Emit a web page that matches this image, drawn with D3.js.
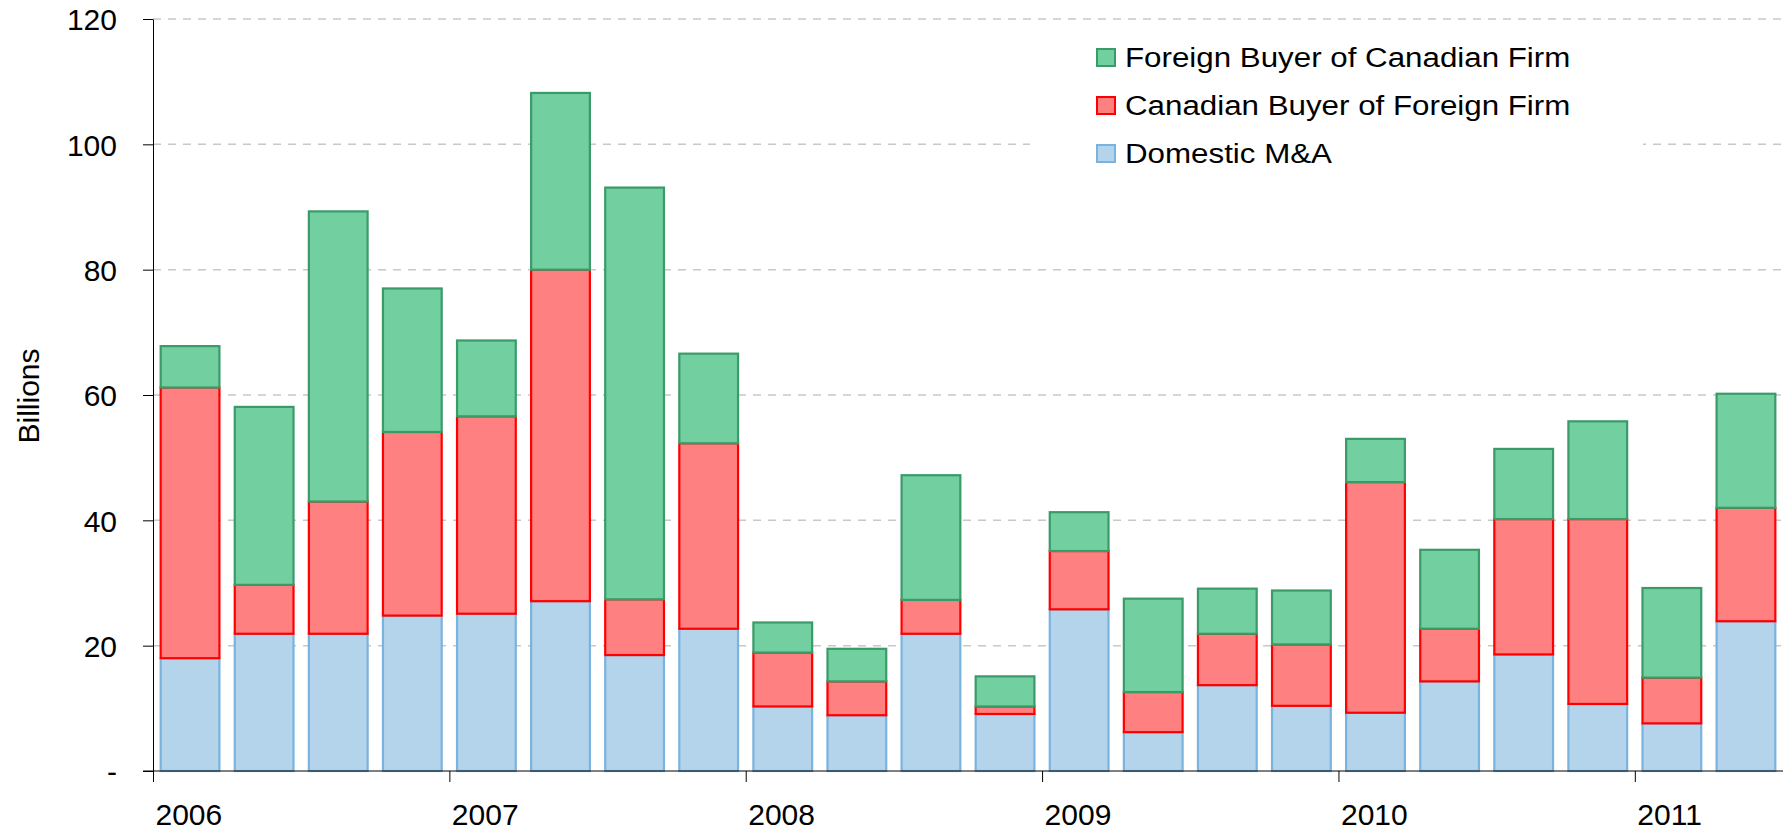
<!DOCTYPE html>
<html>
<head>
<meta charset="utf-8">
<script src="https://cdn.jsdelivr.net/npm/d3@7"></script>
<style>
  body { margin: 0; background: #fff; }
  text { font-family: "Liberation Sans", Arial, sans-serif; fill: #000; }
</style>
</head>
<body>
<div id="chart"></div>
<script>
// quarters 2006Q1 .. 2011Q2
const quarters = ["2006Q1","2006Q2","2006Q3","2006Q4","2007Q1","2007Q2","2007Q3","2007Q4",
    "2008Q1","2008Q2","2008Q3","2008Q4","2009Q1","2009Q2","2009Q3","2009Q4",
    "2010Q1","2010Q2","2010Q3","2010Q4","2011Q1","2011Q2"];

// billions
const domestic = [18.0, 21.9, 21.9, 24.8, 25.1, 27.1, 18.5, 22.7, 10.3, 8.9, 21.9, 9.1,
    25.8, 6.2, 13.7, 10.4, 9.3, 14.3, 18.6, 10.7, 7.6, 23.9];
const canadianBuyer = [43.2, 7.8, 21.1, 29.3, 31.5, 52.9, 8.9, 29.6, 8.6, 5.4, 5.4, 1.2,
    9.3, 6.4, 8.2, 9.8, 36.8, 8.4, 21.6, 29.5, 7.3, 18.1];
const foreignBuyer = [6.6, 28.4, 46.3, 22.9, 12.1, 28.2, 65.7, 14.3, 4.8, 5.2, 19.9, 4.8,
    6.2, 14.9, 7.2, 8.6, 6.9, 12.6, 11.2, 15.6, 14.3, 18.2];

const yTicks = [0, 20, 40, 60, 80, 100, 120];
const yearTicks = [0, 4, 8, 12, 16, 20];
const yearLabels = ["2006", "2007", "2008", "2009", "2010", "2011"];

const seriesNames = ["Foreign Buyer of Canadian Firm", "Canadian Buyer of Foreign Firm", "Domestic M&A"];
const fills = {"Domestic M&A": "#b3d4ea", "Canadian Buyer of Foreign Firm": "#ff8080", "Foreign Buyer of Canadian Firm": "#71cfa0"};
const strokes = {"Domestic M&A": "#7ab3de", "Canadian Buyer of Foreign Firm": "#ff0000", "Foreign Buyer of Canadian Firm": "#3a9b69"};

const W = 1789, H = 832;
const plotLeft = 153, plotRight = 1783, plotTop = 19, plotBottom = 771;

const svg = d3.select("#chart").append("svg").attr("width", W).attr("height", H);

const x = d3.scaleBand().domain(quarters).range([plotLeft, plotRight]).paddingInner(0.18).paddingOuter(0.09);
const xq = d3.scaleLinear().domain([0, quarters.length]).range([plotLeft, plotRight]);
const y = d3.scaleLinear().domain([0, 120]).range([plotBottom, plotTop]);

// grid
svg.append("g").selectAll("line").data(yTicks.filter(d => d > 0)).join("line")
    .attr("x1", plotLeft).attr("x2", plotRight)
    .attr("y1", d => y(d)).attr("y2", d => y(d))
    .attr("stroke", "#c8c8c8").attr("stroke-width", 1.5)
    .attr("stroke-dasharray", "8,7");

// stacked bars
const rows = quarters.map((q, i) => ({
    q: q,
    "Domestic M&A": domestic[i],
    "Canadian Buyer of Foreign Firm": canadianBuyer[i],
    "Foreign Buyer of Canadian Firm": foreignBuyer[i]
}));
const stack = d3.stack().keys(["Domestic M&A", "Canadian Buyer of Foreign Firm", "Foreign Buyer of Canadian Firm"]);
const layers = stack(rows);

svg.append("g").selectAll("g").data(layers).join("g")
    .attr("fill", d => fills[d.key])
    .attr("stroke", d => strokes[d.key])
    .attr("stroke-width", 2.2)
    .selectAll("rect").data(d => d).join("rect")
    .attr("x", d => x(d.data.q) + 1)
    .attr("width", x.bandwidth() - 2)
    .attr("y", d => y(d[1]))
    .attr("height", d => y(d[0]) - y(d[1]));

// legend, sits on a white box over the gridline
svg.append("rect").attr("x", 1030).attr("y", 30).attr("width", 613).attr("height", 150).attr("fill", "#fff");
const legend = svg.append("g").selectAll("g").data(seriesNames).join("g")
    .attr("transform", (d, i) => "translate(1097," + (67 + i * 48) + ")");
legend.append("rect")
    .attr("x", 0).attr("y", -18).attr("width", 18).attr("height", 17)
    .attr("fill", d => fills[d]).attr("stroke", d => strokes[d]).attr("stroke-width", 2);
legend.append("text")
    .attr("transform", "translate(28,0) scale(1.16,1)")
    .style("font-size", "27px")
    .text(d => d);

// axes
const yAxis = svg.append("g").attr("transform", "translate(" + plotLeft + ",0)")
    .call(d3.axisLeft(y).tickValues(yTicks).tickSize(10).tickSizeOuter(0).tickPadding(26)
        .tickFormat(d => d === 0 ? "-" : d));
yAxis.selectAll("text").style("font-size", "30px").attr("dy", "0.36em");
yAxis.selectAll("line, path").attr("stroke", "#000");

const xAxis = svg.append("g").attr("transform", "translate(0," + plotBottom + ")")
    .call(d3.axisBottom(xq).tickValues(yearTicks).tickSize(11).tickSizeOuter(0)
        .tickFormat((d, i) => yearLabels[i]));
xAxis.select(".domain").attr("d", "M" + (plotLeft - 10) + ",0H" + plotRight);
xAxis.selectAll("text").style("font-size", "30px")
    .attr("text-anchor", "start").attr("x", 2).attr("y", 54).attr("dy", 0);
xAxis.selectAll("line, path").attr("stroke", "#000");
svg.selectAll(".tick text").attr("fill", "#000");

svg.append("text")
    .attr("transform", "translate(39,396) rotate(-90)")
    .attr("text-anchor", "middle")
    .style("font-size", "30px")
    .text("Billions");
</script>
</body>
</html>
